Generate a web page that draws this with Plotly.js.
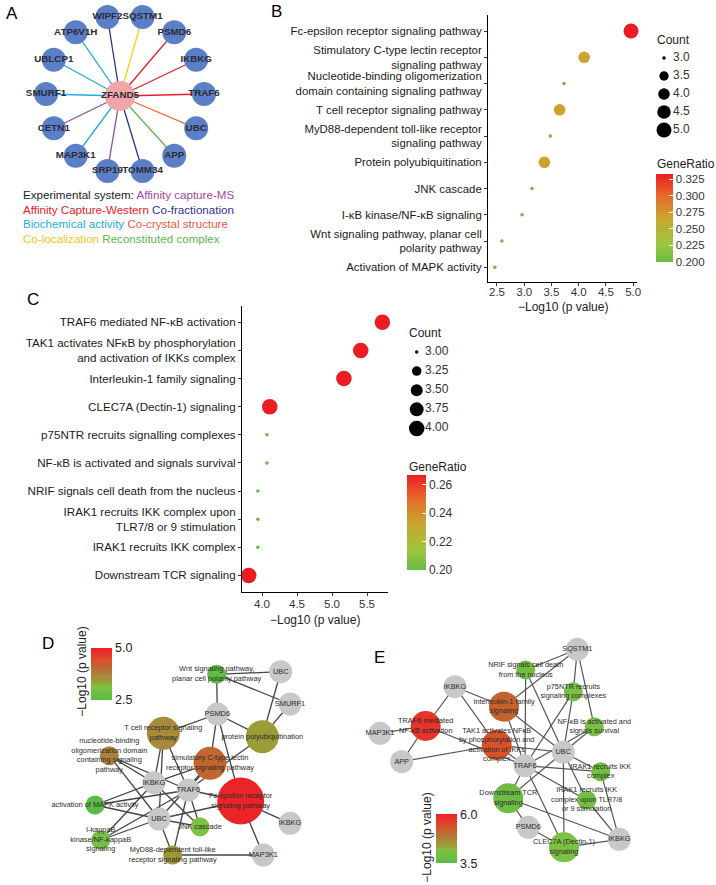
<!DOCTYPE html>
<html><head><meta charset="utf-8">
<script src="https://cdn.plot.ly/plotly-3.0.1.min.js"></script>
<style>html,body{margin:0;padding:0;background:#fff}#chart{width:716px;height:885px}</style>
</head><body><div id="chart"></div>
<script>
// ================= DATA =================
// Panel A: ZFAND5 interactors
const hubGene = 'ZFAND5';
const partnerGenes = ['SQSTM1','PSMD6','IKBKG','TRAF6','UBC','APP','TOMM34','SRP19','MAP3K1','CETN1','SMURF1','UBLCP1','ATP6V1H','WIPF2'];
const partnerSystem = ['Co-localization','Affinity Capture-Western','Affinity Capture-Western','Affinity Capture-Western','Co-crystal structure','Reconstituted complex','Co-fractionation','Affinity capture-MS','Biochemical activity','Affinity capture-MS','Biochemical activity','Biochemical activity','Biochemical activity','Co-fractionation'];
const systemNames = ['Affinity capture-MS','Affinity Capture-Western','Co-fractionation','Biochemical activity','Co-crystal structure','Co-localization','Reconstituted complex'];

// Panel B: KEGG/GO enrichment
const keggTerms = ['Fc-epsilon receptor signaling pathway','Stimulatory C-type lectin receptor<br>signaling pathway','Nucleotide-binding oligomerization<br>domain containing signaling pathway','T cell receptor signaling pathway','MyD88-dependent toll-like receptor<br>signaling pathway','Protein polyubiquitination','JNK cascade','I-κB kinase/NF-κB signaling','Wnt signaling pathway, planar cell<br>polarity pathway','Activation of MAPK activity'];
const keggLogP = [4.96, 4.10, 3.73, 3.65, 3.48, 3.37, 3.14, 2.96, 2.59, 2.46];
const keggCount = [5, 4, 3, 4, 3, 4, 3, 3, 3, 3];
const keggRatio = [0.333, 0.267, 0.200, 0.267, 0.200, 0.267, 0.200, 0.200, 0.200, 0.200];
const keggXTicks = [2.5, 3.0, 3.5, 4.0, 4.5, 5.0];
const keggCountLegend = [3.0, 3.5, 4.0, 4.5, 5.0];
const keggRatioTicks = [0.200, 0.225, 0.250, 0.275, 0.300, 0.325];

// Panel C: Reactome enrichment
const reactTerms = ['TRAF6 mediated NF-κB activation','TAK1 activates NFκB by phosphorylation<br>and activation of IKKs complex','Interleukin-1 family signaling','CLEC7A (Dectin-1) signaling','p75NTR recruits signalling complexes','NF-κB is activated and signals survival','NRIF signals cell death from the nucleus','IRAK1 recruits IKK complex upon<br>TLR7/8 or 9 stimulation','IRAK1 recruits IKK complex','Downstream TCR signaling'];
const reactLogP = [5.72, 5.41, 5.17, 4.11, 4.07, 4.07, 3.94, 3.94, 3.94, 3.81];
const reactCount = [4, 4, 4, 4, 3, 3, 3, 3, 3, 4];
const reactRatio = [0.267, 0.267, 0.267, 0.267, 0.200, 0.200, 0.200, 0.200, 0.200, 0.267];
const reactXTicks = [4.0, 4.5, 5.0, 5.5];
const reactCountLegend = [3.00, 3.25, 3.50, 3.75, 4.00];
const reactRatioTicks = [0.20, 0.22, 0.24, 0.26];

// Panel D: KEGG term–gene network (pathways in keggTerms order)
const dPathLabels = ['Fc-epsilon receptor<br>signaling pathway','simulatory C-type lectin<br>receptor signaling pathway','nucleotide-binding<br>oligomerization domain<br>containing signaling<br>pathway','T cell receptor signaling<br>pathway','MyD88-dependent toll-like<br>receptor signaling pathway','protein polyubiquitination','JNK cascade','I-kappaB<br>kinase/NF-kappaB<br>signaling','Wnt signaling pathway,<br>planar cell polarity pathway','activation of MAPK activity'];
const dGenes = ['UBC','SMURF1','PSMD6','IKBKG','TRAF6','UBC','IKBKG','MAP3K1'];
const dLinks = [[2,4,5,6,7],[2,3,4,5],[3,4,5],[2,3,4,5],[4,5,7],[0,1,2,4],[3,4,5],[3,4,5],[0,1,2],[3,4,5]];
const dScaleTicks = [2.5, 5.0];

// Panel E: Reactome term–gene network (pathways in reactTerms order)
const ePathLabels = ['TRAF6 mediated<br>NF-κB activation','TAK1 activates NFκB<br>by phosphorylation and<br>activation of IKKs<br>complex','Interleukin-1 family<br>signaling','CLEC7A (Dectin-1)<br>signaling','p75NTR recruits<br>signaling complexes','NF-κB is activated and<br>signals survival','NRIF signals cell death<br>from the nucleus','IRAK1 recruits IKK<br>complex upon TLR7/8<br>or 9 stimulation','IRAK1 recruits IKK<br>complex','Downstream TCR<br>signaling'];
const eGenes = ['SQSTM1','IKBKG','MAP3K1','UBC','APP','TRAF6','PSMD6','IKBKG'];
const eLinks = [[1,2,4,5],[1,4,3,5],[0,1,3,5],[5,3,6,7],[0,5,3],[0,3,5],[0,5,3],[5,3,7],[5,3,7],[5,3,6,7]];
const eScaleTicks = [3.5, 6.0];

// ================= LAYOUT / STYLE (pixel space) =================
const W = 716, H = 885;
const systemColors = {'Affinity capture-MS':'#8d4ea6','Affinity Capture-Western':'#e8202a','Co-fractionation':'#2e3192','Biochemical activity':'#27aae1','Co-crystal structure':'#f26b3a','Co-localization':'#f2d21c','Reconstituted complex':'#5bb947'};
const legendTextColors = {'Affinity capture-MS':'#9e4a9e','Affinity Capture-Western':'#e8202a','Co-fractionation':'#2e3192','Biochemical activity':'#27aae1','Co-crystal structure':'#f05a40','Co-localization':'#f5c518','Reconstituted complex':'#5bb947'};
const ringC = [125, 94], ringR = 79, hubPos = [120, 96];
const ringPos = partnerGenes.map((g, i) => {
  const a = (180 / partnerGenes.length + i * 360 / partnerGenes.length) * Math.PI / 180;
  return [ringC[0] + ringR * Math.sin(a), ringC[1] - ringR * Math.cos(a)];
});
const dPathPos = [[240.7,801],[210,763.3],[109.3,755.7],[163.3,733.3],[172.7,855],[262.3,736.7],[200,826.7],[100.7,840],[216.7,674.3],[95,805]];
const dGenePos = [[280.7,671.7],[290,704],[217.3,714],[154,782.7],[188.3,790],[159,819],[290,823.3],[263.3,855]];
const ePathPos = [[425.7,726],[496.7,745],[504,706.7],[564,847.3],[573.3,691.7],[594.3,726.7],[525.7,670],[586.7,800],[600.7,771.7],[508.3,798.3]];
const eGenePos = [[577.3,649.3],[455,686.7],[380,733.3],[563.3,752.3],[401.7,761.7],[525,765.7],[528.3,827.3],[619.3,839.3]];

const ratioScale = [[0,'#66bc46'],[0.2,'#9cc63e'],[0.5,'#c9a52f'],[0.75,'#e66b2a'],[1,'#ec1c24']];
const netScale = [[0,'#5cba47'],[0.27,'#80c141'],[0.35,'#9d9b36'],[0.46,'#a88a3a'],[0.55,'#b4753a'],[0.66,'#c5622d'],[0.77,'#d9502a'],[0.9,'#e8302a'],[1,'#ec2227']];
const FONT = 'Liberation Sans, Arial, Helvetica, sans-serif';

// ggplot-like area scaling of point size
function sizeByCount(c, cmin, cmax, smin, smax) {
  return smin + Math.sqrt((c - cmin) / (cmax - cmin)) * (smax - smin);
}
function edgeXY(links, pathPos, genePos) {
  const x = [], y = [];
  links.forEach((gs, p) => gs.forEach(g => {
    x.push(pathPos[p][0], genePos[g][0], null);
    y.push(pathPos[p][1], genePos[g][1], null);
  }));
  return {x, y};
}
const px = v => v / W, py = v => 1 - v / H;
const base = {type:'scatter', xaxis:'x3', yaxis:'y3', hoverinfo:'skip', cliponaxis:false};

const traces = [];
// ---------- Panel B ----------
traces.push({
  type:'scatter', mode:'markers', xaxis:'x', yaxis:'y', x:keggLogP, y:keggTerms, hoverinfo:'skip', cliponaxis:false,
  marker:{size:keggCount.map(c => sizeByCount(c,3,5,3.5,15)), color:keggRatio, colorscale:ratioScale, cmin:0.2, cmax:0.333, line:{width:0}, opacity:1,
    colorbar:{x:px(656), xanchor:'left', xpad:0, ypad:0, y:py(218), yanchor:'middle', lenmode:'pixels', len:88, thicknessmode:'pixels', thickness:17,
      outlinewidth:0, tickvals:keggRatioTicks, ticktext:keggRatioTicks.map(v=>v.toFixed(3)), ticks:'inside', ticklen:4, tickcolor:'#fff',
      tickfont:{size:11.5, color:'#333', family:FONT}}}
});
// ---------- Panel C ----------
traces.push({
  type:'scatter', mode:'markers', xaxis:'x2', yaxis:'y2', x:reactLogP, y:reactTerms, hoverinfo:'skip', cliponaxis:false,
  marker:{size:reactCount.map(c => sizeByCount(c,3,4,3.5,15.5)), color:reactRatio, colorscale:ratioScale, cmin:0.2, cmax:0.267, line:{width:0}, opacity:1,
    colorbar:{x:px(407), xanchor:'left', xpad:0, ypad:0, y:py(522.5), yanchor:'middle', lenmode:'pixels', len:95, thicknessmode:'pixels', thickness:19,
      outlinewidth:0, tickvals:reactRatioTicks, ticktext:reactRatioTicks.map(v=>v.toFixed(2)), ticks:'inside', ticklen:4, tickcolor:'#fff',
      tickfont:{size:12, color:'#333', family:FONT}}}
});
// size legends
traces.push(Object.assign({}, base, {mode:'markers',
  x:keggCountLegend.map(()=>664), y:keggCountLegend.map((v,i)=>58+i*18), marker:{color:'#000', opacity:1, line:{width:0}, size:keggCountLegend.map(c=>sizeByCount(c,3,5,3.5,15))}}));
traces.push(Object.assign({}, base, {mode:'text',
  x:keggCountLegend.map(()=>673), y:keggCountLegend.map((v,i)=>58+i*18), text:keggCountLegend.map(v=>v.toFixed(1)), textposition:'middle right', textfont:{size:12, color:'#333', family:FONT}}));
traces.push(Object.assign({}, base, {mode:'markers',
  x:reactCountLegend.map(()=>416.7), y:reactCountLegend.map((v,i)=>352+i*19.1), marker:{color:'#000', opacity:1, line:{width:0}, size:reactCountLegend.map(c=>sizeByCount(c,3,4,3.5,15.5))}}));
traces.push(Object.assign({}, base, {mode:'text',
  x:reactCountLegend.map(()=>425), y:reactCountLegend.map((v,i)=>352+i*19.1), text:reactCountLegend.map(v=>v.toFixed(2)), textposition:'middle right', textfont:{size:12, color:'#333', family:FONT}}));

// ---------- Panel A ----------
partnerGenes.forEach((g, i) => {
  traces.push(Object.assign({}, base, {mode:'lines',
    x:[hubPos[0], ringPos[i][0]], y:[hubPos[1], ringPos[i][1]], line:{color:systemColors[partnerSystem[i]], width:1.3}}));
});
traces.push(Object.assign({}, base, {mode:'markers',
  x:ringPos.map(p=>p[0]), y:ringPos.map(p=>p[1]), marker:{size:24, color:'#5b7fc6', opacity:1, line:{width:0}}}));
traces.push(Object.assign({}, base, {mode:'markers',
  x:[hubPos[0]], y:[hubPos[1]], marker:{size:30, color:'#f2a5a8', opacity:1, line:{width:0}}}));
traces.push(Object.assign({}, base, {mode:'text',
  x:ringPos.map(p=>p[0]).concat([hubPos[0]]), y:ringPos.map(p=>p[1]).concat([hubPos[1]]),
  text:partnerGenes.concat([hubGene]).map(t=>'<b>'+t+'</b>'), textposition:'middle center', textfont:{size:9.8, color:'#2b2b35', family:FONT}}));

// ---------- Panel D ----------
const dE = edgeXY(dLinks, dPathPos, dGenePos);
traces.push(Object.assign({}, base, {mode:'lines', x:dE.x, y:dE.y, line:{color:'#444', width:1.3}}));
traces.push(Object.assign({}, base, {mode:'markers',
  x:dGenePos.map(p=>p[0]), y:dGenePos.map(p=>p[1]), marker:{size:23, color:'#c8c8c8', opacity:1, line:{width:0}}}));
traces.push(Object.assign({}, base, {mode:'markers',
  x:dPathPos.map(p=>p[0]), y:dPathPos.map(p=>p[1]),
  marker:{size:keggCount.map(c=>19+(c-3)*14), color:keggLogP, colorscale:netScale, cmin:2.5, cmax:5.0, opacity:1, line:{width:0},
    colorbar:{x:px(90.7), xanchor:'left', xpad:0, ypad:0, y:py(674), yanchor:'middle', lenmode:'pixels', len:52, thicknessmode:'pixels', thickness:21,
      outlinewidth:0, tickvals:dScaleTicks, ticktext:dScaleTicks.map(v=>v.toFixed(1)), ticks:'', tickfont:{size:12.5, color:'#222', family:FONT}}}}));
traces.push(Object.assign({}, base, {mode:'text',
  x:dGenePos.map(p=>p[0]).concat(dPathPos.map(p=>p[0])), y:dGenePos.map(p=>p[1]).concat(dPathPos.map(p=>p[1])),
  text:dGenes.concat(dPathLabels), textposition:'middle center', textfont:{size:7.4, color:'#2a2a2a', family:FONT}}));

// ---------- Panel E ----------
const eE = edgeXY(eLinks, ePathPos, eGenePos);
traces.push(Object.assign({}, base, {mode:'lines', x:eE.x, y:eE.y, line:{color:'#555', width:1.2}}));
traces.push(Object.assign({}, base, {mode:'markers',
  x:eGenePos.map(p=>p[0]), y:eGenePos.map(p=>p[1]), marker:{size:23, color:'#c8c8c8', opacity:1, line:{width:0}}}));
traces.push(Object.assign({}, base, {mode:'markers',
  x:ePathPos.map(p=>p[0]), y:ePathPos.map(p=>p[1]),
  marker:{size:reactCount.map(c=>19+(c-3)*11), color:reactLogP, colorscale:netScale, cmin:3.5, cmax:6.0, opacity:1, line:{width:0},
    colorbar:{x:px(436), xanchor:'left', xpad:0, ypad:0, y:py(838.7), yanchor:'middle', lenmode:'pixels', len:49, thicknessmode:'pixels', thickness:21,
      outlinewidth:0, tickvals:eScaleTicks, ticktext:eScaleTicks.map(v=>v.toFixed(1)), ticks:'', tickfont:{size:12.5, color:'#222', family:FONT}}}}));
traces.push(Object.assign({}, base, {mode:'text',
  x:eGenePos.map(p=>p[0]).concat(ePathPos.map(p=>p[0])), y:eGenePos.map(p=>p[1]).concat(ePathPos.map(p=>p[1])),
  text:eGenes.concat(ePathLabels), textposition:'middle center', textfont:{size:7.3, color:'#2a2a2a', family:FONT}}));

// ---------- annotations ----------
function ann(x, y, text, opts) {
  return Object.assign({xref:'x3', yref:'y3', x, y, text, showarrow:false, xanchor:'left', yanchor:'middle', font:{size:12, color:'#222', family:FONT}}, opts || {});
}
const span = s => '<span style="color:' + legendTextColors[s] + '">' + s + '</span>';
const annotations = [
  ann(4, 13, 'A', {font:{size:17, color:'#000', family:FONT}}),
  ann(269, 11, 'B', {font:{size:17, color:'#000', family:FONT}}),
  ann(25, 299, 'C', {font:{size:17, color:'#000', family:FONT}}),
  ann(40, 643, 'D', {font:{size:17, color:'#000', family:FONT}}),
  ann(372, 657, 'E', {font:{size:17, color:'#000', family:FONT}}),
  ann(21, 194, '<span style="color:#222">Experimental system: </span>' + span('Affinity capture-MS'), {font:{size:11.6, family:FONT}}),
  ann(21, 209, span('Affinity Capture-Western') + ' ' + span('Co-fractionation'), {font:{size:11.6, family:FONT}}),
  ann(21, 223.5, span('Biochemical activity') + ' ' + span('Co-crystal structure'), {font:{size:11.6, family:FONT}}),
  ann(21, 238, span('Co-localization') + ' ' + span('Reconstituted complex'), {font:{size:11.6, family:FONT}}),
  ann(562.5, 306.5, '\u2212Log10 (p value)', {xanchor:'center'}),
  ann(315, 620, '\u2212Log10 (p value)', {xanchor:'center'}),
  ann(655, 40, 'Count'),
  ann(655, 164, 'GeneRatio'),
  ann(407, 333, 'Count'),
  ann(407, 467, 'GeneRatio'),
  ann(81.7, 672, '\u2212Log10 (p value)', {xanchor:'center', textangle:-90}),
  ann(426.7, 838, '\u2212Log10 (p value)', {xanchor:'center', textangle:-90})
];

const catAxis = {type:'category', categoryorder:'array', showline:true, linecolor:'#000', linewidth:1, ticks:'outside', ticklen:3, tickcolor:'#333',
  showgrid:false, zeroline:false, fixedrange:true, automargin:false};
const numAxis = {showline:true, linecolor:'#000', linewidth:1, ticks:'outside', ticklen:3, tickcolor:'#333', showgrid:false, zeroline:false, fixedrange:true, automargin:false,
  tickfont:{size:11.5, color:'#333', family:FONT}};

const layout = {
  width:W, height:H, margin:{l:0, r:0, t:0, b:0}, paper_bgcolor:'#fff', plot_bgcolor:'rgba(0,0,0,0)',
  font:{family:FONT, color:'#222'}, showlegend:false, hovermode:false,
  xaxis:Object.assign({}, numAxis, {domain:[px(488), px(637)], anchor:'y', range:[2.335, 5.07], tickvals:keggXTicks, ticktext:keggXTicks.map(v=>v.toFixed(1)), ticklabelstandoff:-4}),
  yaxis:Object.assign({}, catAxis, {domain:[py(282), py(15)], anchor:'x', categoryarray:keggTerms, range:[9.56, -0.61], tickfont:{size:11.4, color:'#1a1a1a', family:FONT}}),
  xaxis2:Object.assign({}, numAxis, {domain:[px(242), px(388)], anchor:'y2', range:[3.714, 5.8], tickvals:reactXTicks, ticktext:reactXTicks.map(v=>v.toFixed(1)), ticklabelstandoff:-2}),
  yaxis2:Object.assign({}, catAxis, {domain:[py(592), py(305.7)], anchor:'x2', categoryarray:reactTerms, range:[9.59, -0.59], tickfont:{size:11.6, color:'#1a1a1a', family:FONT}}),
  xaxis3:{domain:[0,1], range:[0,W], visible:false, anchor:'y3', fixedrange:true},
  yaxis3:{domain:[0,1], range:[H,0], visible:false, anchor:'x3', fixedrange:true},
  annotations
};
Plotly.newPlot('chart', traces, layout, {staticPlot:true, displayModeBar:false});
</script>
</body></html>
